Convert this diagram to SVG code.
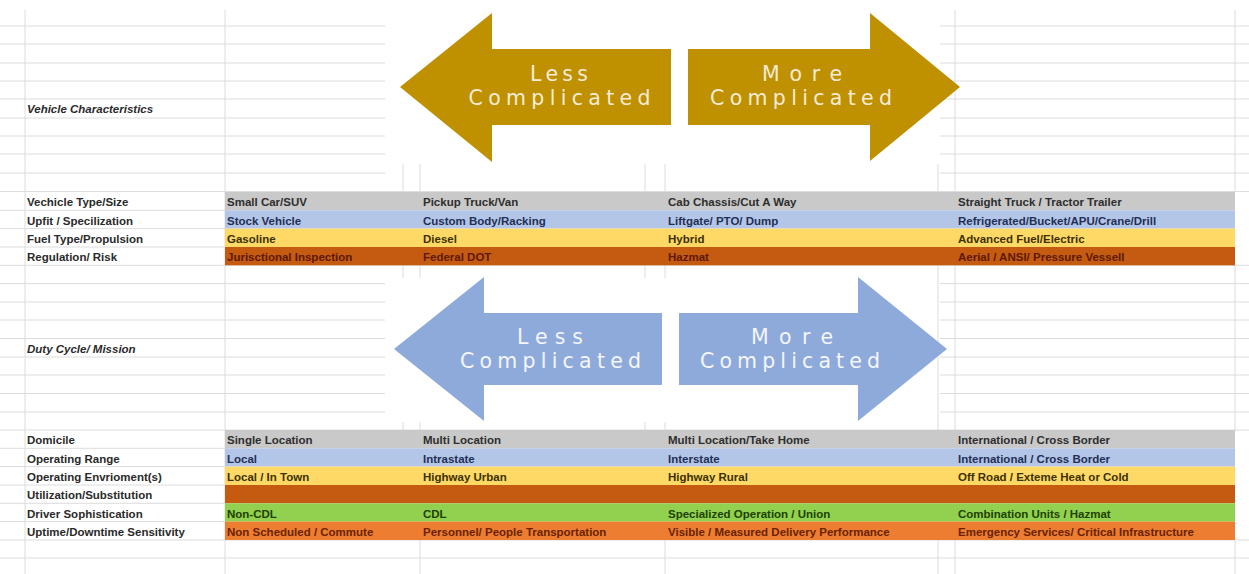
<svg xmlns="http://www.w3.org/2000/svg" width="1249" height="574" viewBox="0 0 1249 574">
<style>
.g{stroke:#dcdcdc;stroke-width:1;fill:none}
.lb{font-family:"Liberation Sans",Arial,sans-serif;font-weight:bold;font-size:11.5px;fill:#2a2a2a}
.hd{font-family:"Liberation Sans",Arial,sans-serif;font-weight:bold;font-style:italic;font-size:11.5px;fill:#2a2a2a}
.ar{font-family:"DejaVu Sans","Open Sans",sans-serif;font-size:20.5px;text-anchor:middle}
.t1{fill:#2e2e2e}.t2{fill:#1f2f55}.t3{fill:#3c3000}.t4{fill:#5e1800}.t5{fill:#1d4200}.t6{fill:#6a2200}
</style>
<rect width="1249" height="574" fill="#ffffff"/>
<g id="grid">
<path class="g" d="M0 26H385M0 44H385M0 63H385M0 81H385M0 99H385M0 118H385M0 136H385M0 154H385M0 173H385M0 191.5H1249
M940 26H1249M940 44H1249M940 63H1249M940 81H1249M940 99H1249M940 118H1249M940 136H1249M940 154H1249M940 173H1249
M0 210.3H225M0 228.6H225M0 247H225M0 265.3H1249
M0 283.6H385M0 302H385M0 320H385M0 338.5H385M0 357H385M0 375H385M0 393.5H385M0 412H385M0 430H1249
M940 283.6H1249M940 302H1249M940 320H1249M940 338.5H1249M940 357H1249M940 375H1249M940 393.5H1249M940 412H1249
M0 448.3H225M0 466.6H225M0 485H225M0 503.3H225M0 521.6H225M0 540H1249M0 558H1249
M25 10V574M225 10V574M955 10V192M1235 10V192M955 265V430M1235 265V430M955 540V574M1235 540V574
M403 164V192M420 164V192M645 164V192M665 164V192M938 164V192
M403 265V278M420 265V278M645 265V278M665 265V278M938 265V430
M403 422V430M420 422V430M645 422V430M665 422V430
M420 540V574M665 540V574M938 540V574"/>
</g>
<g id="vehicle-characteristics">
<text class="hd" x="27" y="113">Vehicle Characteristics</text>
</g>
<g id="gold-arrows">
<polygon points="400,87 492,13 492,49 671,49 671,125 492,125 492,162" fill="#bf9000"/>
<polygon points="688,49 870,49 870,13 960,87 870,161 870,125 688,125" fill="#bf9000"/>
<text class="ar" fill="#f4ecd6" x="559" y="81" textLength="58" lengthAdjust="spacing">Less</text>
<text class="ar" fill="#f4ecd6" x="559.5" y="105" textLength="182" lengthAdjust="spacing">Complicated</text>
<text class="ar" fill="#f4ecd6" x="802" y="81" textLength="80" lengthAdjust="spacing">More</text>
<text class="ar" fill="#f4ecd6" x="801" y="105" textLength="182" lengthAdjust="spacing">Complicated</text>
</g>
<g id="vehicle-rows">
<rect x="225" y="192" width="1010" height="18.3" fill="#c9c9c9"/>
<rect x="225" y="210.3" width="1010" height="18.3" fill="#b4c6e7"/>
<rect x="225" y="228.6" width="1010" height="18.4" fill="#ffd966"/>
<rect x="225" y="247" width="1010" height="18.3" fill="#c55a11"/>
<text class="lb" x="27" y="206">Vechicle Type/Size</text>
<text class="lb" x="27" y="224.5">Upfit / Specilization</text>
<text class="lb" x="27" y="243">Fuel Type/Propulsion</text>
<text class="lb" x="27" y="261">Regulation/ Risk</text>
<text class="lb t1" x="227" y="206">Small Car/SUV</text>
<text class="lb t1" x="423" y="206">Pickup Truck/Van</text>
<text class="lb t1" x="668" y="206">Cab Chassis/Cut A Way</text>
<text class="lb t1" x="958" y="206">Straight Truck / Tractor Trailer</text>
<text class="lb t2" x="227" y="224.5">Stock Vehicle</text>
<text class="lb t2" x="423" y="224.5">Custom Body/Racking</text>
<text class="lb t2" x="668" y="224.5">Liftgate/ PTO/ Dump</text>
<text class="lb t2" x="958" y="224.5">Refrigerated/Bucket/APU/Crane/Drill</text>
<text class="lb t3" x="227" y="243">Gasoline</text>
<text class="lb t3" x="423" y="243">Diesel</text>
<text class="lb t3" x="668" y="243">Hybrid</text>
<text class="lb t3" x="958" y="243">Advanced Fuel/Electric</text>
<text class="lb t4" x="227" y="261">Jurisctional Inspection</text>
<text class="lb t4" x="423" y="261">Federal DOT</text>
<text class="lb t4" x="668" y="261">Hazmat</text>
<text class="lb t4" x="958" y="261">Aerial / ANSI/ Pressure Vessell</text>
</g>
<g id="duty-cycle">
<text class="hd" x="27" y="353">Duty Cycle/ Mission</text>
</g>
<g id="blue-arrows">
<polygon points="394,349 484,277 484,313 662,313 662,385 484,385 484,421" fill="#8eaadb"/>
<polygon points="679,313 858,313 858,277 947,349 858,421 858,385 679,385" fill="#8eaadb"/>
<text class="ar" fill="#f4f6fb" x="550" y="344" textLength="66" lengthAdjust="spacing">Less</text>
<text class="ar" fill="#f4f6fb" x="550.5" y="368" textLength="181" lengthAdjust="spacing">Complicated</text>
<text class="ar" fill="#f4f6fb" x="792" y="344" textLength="82" lengthAdjust="spacing">More</text>
<text class="ar" fill="#f4f6fb" x="790" y="368" textLength="180" lengthAdjust="spacing">Complicated</text>
</g>
<g id="duty-rows">
<rect x="225" y="430" width="1010" height="18.3" fill="#c9c9c9"/>
<rect x="225" y="448.3" width="1010" height="18.3" fill="#b4c6e7"/>
<rect x="225" y="466.6" width="1010" height="18.4" fill="#ffd966"/>
<rect x="225" y="485" width="1010" height="18.3" fill="#c55a11"/>
<rect x="225" y="503.3" width="1010" height="18.3" fill="#92d050"/>
<rect x="225" y="521.6" width="1010" height="18.4" fill="#ed7d31"/>
<text class="lb" x="27" y="444">Domicile</text>
<text class="lb" x="27" y="462.5">Operating Range</text>
<text class="lb" x="27" y="481">Operating Envrioment(s)</text>
<text class="lb" x="27" y="499">Utilization/Substitution</text>
<text class="lb" x="27" y="517.5">Driver Sophistication</text>
<text class="lb" x="27" y="536">Uptime/Downtime Sensitivity</text>
<text class="lb t1" x="227" y="444">Single Location</text>
<text class="lb t1" x="423" y="444">Multi Location</text>
<text class="lb t1" x="668" y="444">Multi Location/Take Home</text>
<text class="lb t1" x="958" y="444">International / Cross Border</text>
<text class="lb t2" x="227" y="462.5">Local</text>
<text class="lb t2" x="423" y="462.5">Intrastate</text>
<text class="lb t2" x="668" y="462.5">Interstate</text>
<text class="lb t2" x="958" y="462.5">International / Cross Border</text>
<text class="lb t3" x="227" y="481">Local / In Town</text>
<text class="lb t3" x="423" y="481">Highway Urban</text>
<text class="lb t3" x="668" y="481">Highway Rural</text>
<text class="lb t3" x="958" y="481">Off Road / Exteme Heat or Cold</text>
<text class="lb t5" x="227" y="517.5">Non-CDL</text>
<text class="lb t5" x="423" y="517.5">CDL</text>
<text class="lb t5" x="668" y="517.5">Specialized Operation / Union</text>
<text class="lb t5" x="958" y="517.5">Combination Units / Hazmat</text>
<text class="lb t6" x="227" y="536">Non Scheduled / Commute</text>
<text class="lb t6" x="423" y="536">Personnel/ People Transportation</text>
<text class="lb t6" x="668" y="536">Visible / Measured Delivery Performance</text>
<text class="lb t6" x="958" y="536">Emergency Services/ Critical Infrastructure</text>
</g>
</svg>
